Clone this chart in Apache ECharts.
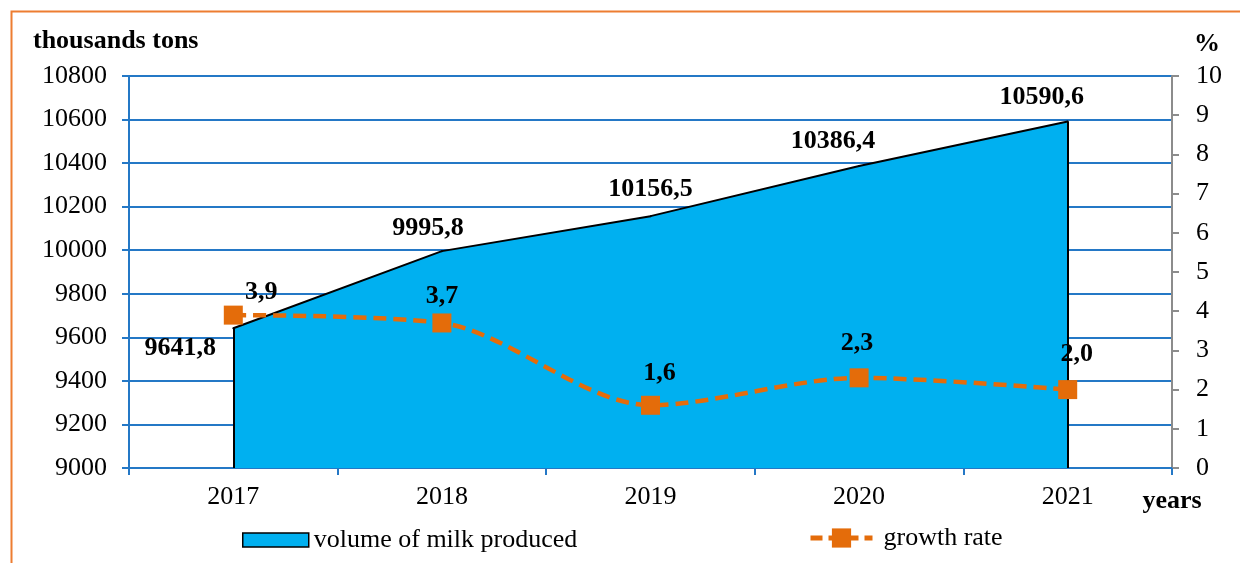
<!DOCTYPE html>
<html>
<head>
<meta charset="utf-8">
<script src="https://cdn.jsdelivr.net/npm/echarts@6/dist/echarts.min.js"></script>
<style>
    * { margin: 0; padding: 0; }
    body { background: #fff; }
    #chart { width: 1240px; height: 563px; }
</style>
</head>
<body>
<div id="chart"></div>
<script>
    // data
    var years = ['2017', '2018', '2019', '2020', '2021'];
    var milkVolume = [9641.8, 9995.8, 10156.5, 10386.4, 10590.6];   // thousands tons
    var growthRate = [3.9, 3.7, 1.6, 2.3, 2.0];                      // %
    var leftTicks = [9000, 10800, 200];
    var rightTicks = [0, 10, 1];

    // label offsets (layout only)
    var milkLabelOffset = [[-53, 20], [-14, -23], [0, -27], [-26, -25], [-26, -24]];
    var rateLabelOffset = [[28, -23], [0, -27], [9, -32], [-2, -35], [9, -35]];

    var FONT = 'Liberation Serif';
    var AXIS_BLUE = '#2478C6';
    var ORANGE = '#E46C0A';
    var fmt = function (v) { return v.toFixed(1).replace('.', ','); };

    var labelStyle = { show: true, position: 'inside', fontFamily: FONT, fontSize: 26, fontWeight: 'bold', color: '#000' };

    var milkData = milkVolume.map(function (v, i) {
        return { value: v, label: Object.assign({}, labelStyle, { offset: milkLabelOffset[i], formatter: fmt(v) }) };
    });
    var rateData = growthRate.map(function (v, i) {
        return { value: v, label: Object.assign({}, labelStyle, { offset: rateLabelOffset[i], formatter: fmt(v) }) };
    });

    // vertical black edges at both ends of the area
    var edgeLines = [0, years.length - 1].map(function (i) {
        return [{ coord: [years[i], leftTicks[0]] }, { coord: [years[i], milkVolume[i]] }];
    });

    var option = {
        animation: false,
        textStyle: { fontFamily: FONT },
        graphic: [{
            type: 'rect', left: 9, top: 9, silent: true,
            shape: { width: 1300, height: 700 },
            style: { fill: 'none', stroke: '#ED7D31', lineWidth: 2 }
        }],
        grid: { left: 129, right: 68, top: 76, bottom: 95 },
        legend: [
            {
                data: [{
                    name: 'volume of milk produced', icon: 'rect',
                    itemStyle: { color: '#00B0F0', borderColor: '#000', borderWidth: 1.5 }
                }],
                left: 237, top: 522,
                itemWidth: 66, itemHeight: 14,
                textStyle: { fontFamily: FONT, fontSize: 26, color: '#000' }
            },
            {
                data: ['growth rate'], left: 803, top: 520,
                itemWidth: 62, itemHeight: 24,
                lineStyle: { width: 5, type: [12, 6] },
                textStyle: { fontFamily: FONT, fontSize: 26, color: '#000', padding: [0, 0, 0, 6] }
            }
        ],
        xAxis: {
            type: 'category',
            data: years,
            name: 'years',
            nameLocation: 'end',
            nameGap: 0,
            nameTextStyle: { fontFamily: FONT, fontSize: 26, fontWeight: 'bold', color: '#000', padding: [20, 0, 0, 0], align: 'center', verticalAlign: 'top' },
            axisLine: { lineStyle: { color: AXIS_BLUE, width: 2 } },
            axisTick: { show: true, length: 7, lineStyle: { color: AXIS_BLUE, width: 2 } },
            axisLabel: { fontFamily: FONT, fontSize: 26, color: '#000', margin: 16 }
        },
        yAxis: [
            {
                type: 'value',
                min: leftTicks[0], max: leftTicks[1], interval: leftTicks[2],
                name: 'thousands tons',
                nameLocation: 'end',
                nameGap: 22,
                nameTextStyle: { fontFamily: FONT, fontSize: 26, fontWeight: 'bold', color: '#000', align: 'left', padding: [0, 0, 0, -96] },
                axisLine: { show: true, lineStyle: { color: AXIS_BLUE, width: 2 } },
                axisTick: { show: true, length: 7, lineStyle: { color: AXIS_BLUE, width: 2 } },
                axisLabel: { fontFamily: FONT, fontSize: 26, color: '#000', margin: 22, formatter: function (v) { return String(v); } },
                splitLine: { show: true, lineStyle: { color: AXIS_BLUE, width: 2 } }
            },
            {
                type: 'value',
                position: 'right',
                min: rightTicks[0], max: rightTicks[1], interval: rightTicks[2],
                name: '%',
                nameLocation: 'end',
                nameGap: 19,
                nameTextStyle: { fontFamily: FONT, fontSize: 26, fontWeight: 'bold', color: '#000', padding: [0, 0, 0, 70] },
                axisLine: { show: true, lineStyle: { color: '#8C8C8C', width: 2 } },
                axisTick: { show: true, length: 7, lineStyle: { color: '#8C8C8C', width: 2 } },
                axisLabel: { fontFamily: FONT, fontSize: 26, color: '#000', margin: 24 },
                splitLine: { show: false }
            }
        ],
        series: [
            {
                name: 'volume of milk produced',
                type: 'line',
                yAxisIndex: 0,
                data: milkData,
                symbol: 'circle',
                symbolSize: 2,
                itemStyle: { color: '#000' },
                lineStyle: { color: '#000', width: 2 },
                areaStyle: { color: '#00B0F0', opacity: 1, origin: 'start' },
                z: 2,
                markLine: {
                    silent: true,
                    symbol: 'none',
                    label: { show: false },
                    lineStyle: { color: '#000', width: 2, type: 'solid' },
                    data: edgeLines
                }
            },
            {
                name: 'growth rate',
                type: 'line',
                yAxisIndex: 1,
                data: rateData,
                smooth: 0.3,
                symbol: 'rect',
                symbolSize: 19,
                itemStyle: { color: ORANGE },
                lineStyle: { color: ORANGE, width: 4.5, type: [13, 7] },
                z: 5
            }
        ]
    };

    var myChart = echarts.init(document.getElementById('chart'));
    myChart.setOption(option);
</script>
</body>
</html>
